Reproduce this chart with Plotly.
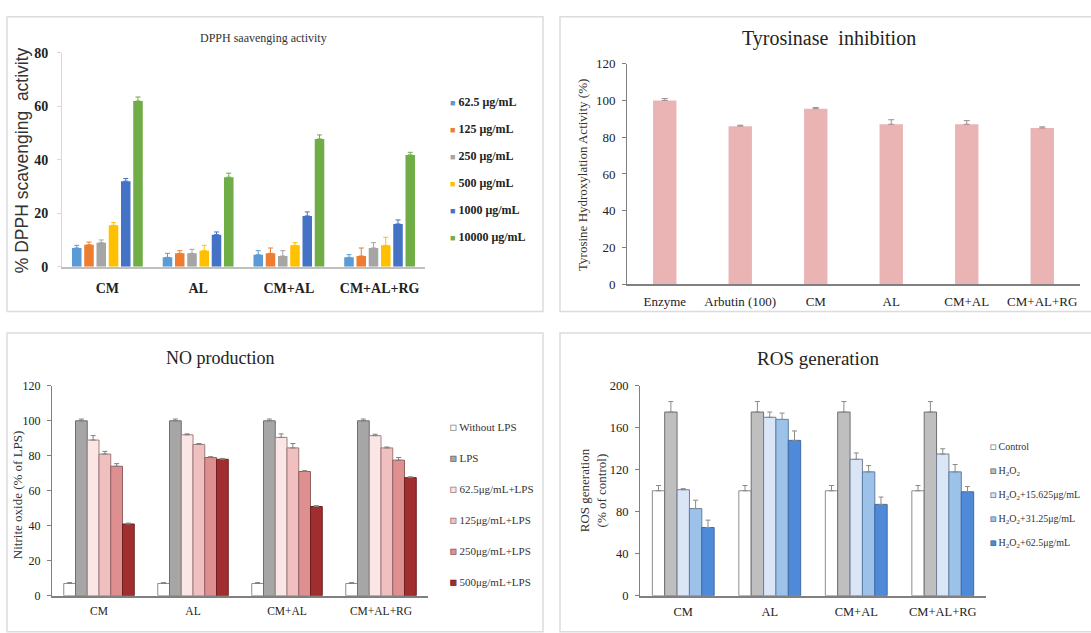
import plotly.graph_objects as go

W, H = 1091, 633
SERIF = "Liberation Serif, Times New Roman, serif"
SANS = "Liberation Sans, Arial, sans-serif"


def fx(x):
    return x / W


def fy(y):
    return 1 - y / H


# ---------------- data ----------------
dpph_groups = ["CM", "AL", "CM+AL", "CM+AL+RG"]
dpph_names = ["62.5 μg/mL", "125 μg/mL", "250 μg/mL", "500 μg/mL", "1000 μg/mL", "10000 μg/mL"]
dpph_62_5 = [7.0, 3.5, 4.5, 3.5]
dpph_125 = [8.2, 5.0, 5.0, 4.0]
dpph_250 = [9.0, 5.0, 4.0, 7.0]
dpph_500 = [15.5, 6.0, 8.0, 8.0]
dpph_1000 = [32.0, 12.0, 19.0, 16.0]
dpph_10000 = [62.0, 33.5, 47.8, 41.8]
dpph_err_62_5 = [1.0, 1.5, 1.5, 1.0]
dpph_err_125 = [1.0, 1.0, 2.0, 3.0]
dpph_err_250 = [1.0, 1.5, 2.0, 2.0]
dpph_err_500 = [1.0, 2.0, 1.0, 3.0]
dpph_err_1000 = [1.0, 1.0, 1.5, 1.5]
dpph_err_10000 = [1.5, 1.5, 1.5, 1.0]

tyr_groups = ["Enzyme", "Arbutin (100)", "CM", "AL", "CM+AL", "CM+AL+RG"]
tyr_values = [100.0, 86.0, 95.5, 87.0, 87.0, 85.0]
tyr_err = [1.0, 0.5, 0.6, 2.5, 2.0, 0.6]

no_groups = ["CM", "AL", "CM+AL", "CM+AL+RG"]
no_names = ["Without LPS", "LPS", "62.5μg/mL+LPS", "125μg/mL+LPS", "250μg/mL+LPS", "500μg/mL+LPS"]
no_without = [7.0, 7.0, 7.0, 7.0]
no_lps = [100.0, 100.0, 100.0, 100.0]
no_62_5 = [89.0, 92.0, 90.5, 91.5]
no_125 = [81.0, 86.5, 84.5, 84.5]
no_250 = [74.0, 79.0, 71.0, 77.5]
no_500 = [41.0, 78.0, 51.0, 67.5]
no_err_without = [0.5, 0.5, 0.5, 0.5]
no_err_lps = [1.0, 1.0, 1.0, 1.0]
no_err_62_5 = [2.5, 0.5, 2.0, 0.8]
no_err_125 = [1.5, 0.5, 2.5, 0.5]
no_err_250 = [1.5, 0.5, 0.5, 1.5]
no_err_500 = [0.5, 0.5, 0.5, 0.5]

ros_groups = ["CM", "AL", "CM+AL", "CM+AL+RG"]
ros_names = ["Control", "H<sub>2</sub>O<sub>2</sub>",
             "H<sub>2</sub>O<sub>2</sub>+15.625μg/mL",
             "H<sub>2</sub>O<sub>2</sub>+31.25μg/mL",
             "H<sub>2</sub>O<sub>2</sub>+62.5μg/mL"]
ros_control = [100.0, 100.0, 100.0, 100.0]
ros_h2o2 = [175.0, 175.0, 175.0, 175.0]
ros_15_625 = [101.0, 170.0, 130.0, 135.0]
ros_31_25 = [83.0, 168.0, 118.0, 118.0]
ros_62_5 = [65.0, 148.0, 87.0, 99.0]
ros_err_control = [5.0, 5.0, 5.0, 5.0]
ros_err_h2o2 = [10.0, 10.0, 10.0, 10.0]
ros_err_15_625 = [1.0, 5.0, 6.0, 5.0]
ros_err_31_25 = [8.0, 6.0, 6.0, 7.0]
ros_err_62_5 = [7.0, 9.0, 7.0, 5.0]

fig = go.Figure()


def legend_entry(xaxis, yaxis, legend, idx, label, fill, line, glyph_px):
    """Legend row: a small square glyph followed by the series label."""
    stroke = f";stroke:{line};stroke-width:0.8px" if line else ""
    text = (f'<span style="color:{fill}{stroke};font-size:{glyph_px}px">■</span> '
            f"{label}")
    fig.add_trace(go.Scatter(
        x=[None], y=[None], xaxis=xaxis, yaxis=yaxis, mode="markers",
        marker=dict(size=1, color="rgba(0,0,0,0)"), name=text,
        legend=legend, legendgroup=f"{legend}_{idx}", showlegend=True,
        hoverinfo="skip",
    ))


def add_group(xaxis, yaxis, legend, cats, series, names, errs, fills, lines,
              err_colors, width, pitch, line_w, glyph_px, glyph_outline):
    n = len(series)
    span = (n - 1) * pitch + width
    for i in range(n):
        offset = -span / 2 + i * pitch
        fig.add_trace(go.Bar(
            x=cats, y=series[i], name=names[i],
            xaxis=xaxis, yaxis=yaxis, showlegend=False,
            offset=offset, width=width,
            marker=dict(color=fills[i], line=dict(color=lines[i], width=line_w)),
            error_y=dict(type="data", array=errs[i], arrayminus=[0] * len(errs[i]),
                         symmetric=False, color=err_colors[i], thickness=1, width=2.5),
            hoverinfo="x+y+name",
        ))
        legend_entry(xaxis, yaxis, legend, i, names[i], fills[i],
                     lines[i] if glyph_outline else None, glyph_px)


# DPPH scavenging
dpph_colors = ["#5B9BD5", "#ED7D31", "#A5A5A5", "#FFC000", "#4472C4", "#70AD47"]
add_group("x", "y", "legend", dpph_groups,
          [dpph_62_5, dpph_125, dpph_250, dpph_500, dpph_1000, dpph_10000], dpph_names,
          [dpph_err_62_5, dpph_err_125, dpph_err_250, dpph_err_500, dpph_err_1000, dpph_err_10000],
          dpph_colors, dpph_colors, dpph_colors, 0.105, 0.135, 0, 9, False)

# Tyrosinase inhibition
fig.add_trace(go.Bar(
    x=tyr_groups, y=tyr_values, xaxis="x2", yaxis="y2", showlegend=False,
    width=0.31, marker=dict(color="#EBB4B4", line=dict(width=0)),
    error_y=dict(type="data", array=tyr_err, arrayminus=[0] * len(tyr_err),
                 symmetric=False, color="#A08C8C", thickness=1, width=3),
))

# NO production
no_fills = ["#FFFFFF", "#A6A6A6", "#FBE6E6", "#F0C0C0", "#DE9090", "#A12E2E"]
no_lines = ["#8C8C8C", "#6E6E6E", "#A08080", "#A07878", "#906060", "#6E2020"]
add_group("x3", "y3", "legend2", no_groups,
          [no_without, no_lps, no_62_5, no_125, no_250, no_500], no_names,
          [no_err_without, no_err_lps, no_err_62_5, no_err_125, no_err_250, no_err_500],
          no_fills, no_lines, ["#808080"] * 6, 0.125, 0.125, 1, 11, True)

# ROS generation
ros_fills = ["#FFFFFF", "#BFBFBF", "#DAE6F6", "#9CC2EA", "#4E8AD8"]
ros_lines = ["#8C8C8C", "#6E6E6E", "#6F7F95", "#5F7FA5", "#3F6AA5"]
add_group("x4", "y4", "legend3", ros_groups,
          [ros_control, ros_h2o2, ros_15_625, ros_31_25, ros_62_5], ros_names,
          [ros_err_control, ros_err_h2o2, ros_err_15_625, ros_err_31_25, ros_err_62_5],
          ros_fills, ros_lines, ["#8A8A8A"] * 5, 0.143, 0.143, 1, 10, True)


def xaxis_style(x0, x1, anchor, size, bold, linecolor, standoff):
    return dict(domain=[fx(x0), fx(x1)], anchor=anchor, type="category",
                showline=True, linecolor=linecolor, linewidth=1.5, ticks="",
                showgrid=False, zeroline=False, fixedrange=True,
                tickfont=dict(family=SERIF, size=size, color="#222222",
                              weight="bold" if bold else "normal"),
                ticklabelstandoff=standoff)


def yaxis_style(y_bottom, y_top, anchor, rng, dtick, size, bold, linecolor, standoff):
    return dict(domain=[fy(y_bottom), fy(y_top)], anchor=anchor, range=rng, dtick=dtick,
                showline=True, linecolor=linecolor, linewidth=1, ticks="outside",
                ticklen=4, tickcolor=linecolor, showgrid=False, zeroline=False,
                fixedrange=True,
                tickfont=dict(family=SERIF, size=size, color="#222222",
                              weight="bold" if bold else "normal"),
                ticklabelstandoff=standoff)


fig.update_layout(
    width=W, height=H, margin=dict(l=0, r=0, t=0, b=0),
    paper_bgcolor="white", plot_bgcolor="white",
    barmode="overlay",
    xaxis=xaxis_style(62, 425, "y", 14, True, "#BFBFBF", 8),
    yaxis=yaxis_style(266, 47, "x", [0, 80], 20, 14, True, "#D9D9D9", 6),
    xaxis2=xaxis_style(627, 1080, "y2", 13, False, "#808080", 4),
    yaxis2=yaxis_style(284, 58, "x2", [0, 120], 20, 13, False, "#808080", 4),
    xaxis3=xaxis_style(52, 428, "y3", 11.5, False, "#808080", 4),
    yaxis3=yaxis_style(603, 388, "x3", [0, 120], 20, 12, False, "#808080", 4),
    xaxis4=xaxis_style(640, 986, "y4", 12.5, False, "#808080", 4),
    yaxis4=yaxis_style(603, 388, "x4", [0, 200], 40, 12.5, False, "#808080", 4),
    legend=dict(x=fx(410), y=fy(82), xanchor="left", yanchor="top",
                font=dict(family=SERIF, size=12, color="#222222", weight="bold"),
                tracegroupgap=8, bgcolor="rgba(0,0,0,0)"),
    legend2=dict(x=fx(410), y=fy(415), xanchor="left", yanchor="top",
                 font=dict(family=SERIF, size=11, color="#333333"),
                 tracegroupgap=12, bgcolor="rgba(0,0,0,0)"),
    legend3=dict(x=fx(950), y=fy(435), xanchor="left", yanchor="top",
                 font=dict(family=SERIF, size=10, color="#333333"),
                 tracegroupgap=5, bgcolor="rgba(0,0,0,0)"),
)

# panel frames
frames = [(7, 10, 543, 312), (560, 10, 1100, 312), (7, 334, 543, 640), (560, 334, 1100, 640)]
for x0, y0, x1, y1 in frames:
    fig.add_shape(type="rect", xref="paper", yref="paper",
                  x0=fx(x0), x1=fx(x1), y0=fy(y1), y1=fy(y0),
                  line=dict(color="#DCDCDC", width=1.5), fillcolor="rgba(0,0,0,0)",
                  layer="below")

# titles and axis titles
texts = [
    ("DPPH saavenging activity", 263, 32, 0, SERIF, 12, "#333333"),
    ("Tyrosinase  inhibition", 829, 32, 0, SERIF, 20, "#222222"),
    ("NO production", 220, 360, 0, SERIF, 18, "#222222"),
    ("ROS generation", 818, 360, 0, SERIF, 19, "#222222"),
    ("% DPPH scavenging  activity", 22, 157, -90, SANS, 17.5, "#333333"),
    ("Tyrosine Hydroxylation Activity (%)", 583, 172, -90, SERIF, 13, "#333333"),
    ("Nitrite oxide (% of LPS)", 17, 500, -90, SERIF, 13, "#333333"),
    ("ROS generation<br>(% of control)", 593, 495, -90, SERIF, 13, "#333333"),
]
for txt, x, y, ang, fam, size, col in texts:
    fig.add_annotation(text=txt, xref="paper", yref="paper", x=fx(x), y=fy(y),
                       xanchor="center", yanchor="middle", showarrow=False,
                       textangle=ang, font=dict(family=fam, size=size, color=col))

fig.write_html("out.html")
